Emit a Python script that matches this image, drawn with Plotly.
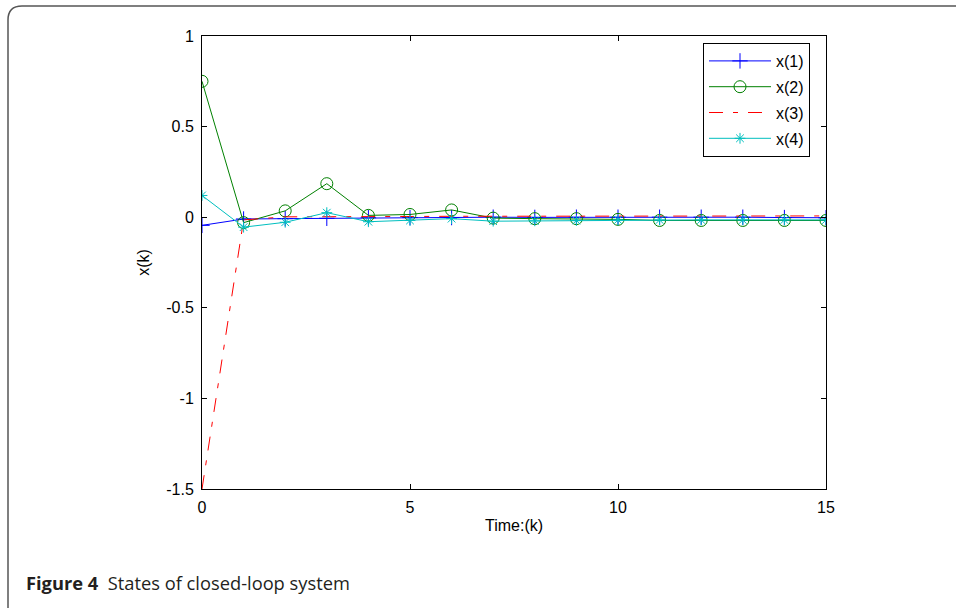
import plotly.graph_objects as go

t = list(range(16))
x1 = [-0.045, -0.01, -0.008, -0.006, -0.003, -0.002, -0.002, 0.0, -0.001, 0.0, 0.0, 0.0, 0.0, 0.0, -0.002, -0.003]
x2 = [0.75, -0.03, 0.035, 0.185, 0.01, 0.015, 0.04, -0.005, -0.008, -0.008, -0.012, -0.018, -0.018, -0.018, -0.018, -0.018]
x3 = [-1.5, -0.015, 0.002, 0.004, 0.004, 0.004, 0.005, 0.005, 0.006, 0.006, 0.007, 0.007, 0.007, 0.007, 0.007, 0.007]
x4 = [0.12, -0.055, -0.028, 0.025, -0.025, -0.018, -0.008, -0.022, -0.02, -0.018, -0.015, -0.015, -0.015, -0.015, -0.015, -0.015]
names = ["x(1)", "x(2)", "x(3)", "x(4)"]
xticks = [0, 5, 10, 15]
yticks = [-1.5, -1, -0.5, 0, 0.5, 1]
yticklabels = ["-1.5", "-1", "-0.5", "0", "0.5", "1"]

# plot area in pixels
L, R, T, B = 202, 826, 36, 489
W, H = 956, 608

def px(x):
    return (x - L) / (R - L)

def py(y):
    return (B - y) / (B - T)

fig = go.Figure()
fig.add_trace(go.Scatter(x=t, y=x1, name=names[0], mode="lines+markers", legendgroup="a",
                         line=dict(color="#0000FF", width=1),
                         marker=dict(symbol="cross-thin-open", size=11, line=dict(color="#0000FF", width=1))))
fig.add_trace(go.Scatter(x=t, y=x2, name=names[1], mode="lines+markers", legendgroup="b",
                         line=dict(color="#008000", width=1),
                         marker=dict(symbol="circle-open", size=12, color="#008000", line=dict(color="#008000", width=1))))
fig.add_trace(go.Scatter(x=t, y=x3, name=names[2], mode="lines", legendgroup="c",
                         line=dict(color="#FF0000", width=1, dash="14px,10px,5px,10px")))
fig.add_trace(go.Scatter(x=t, y=x4, name=names[3], mode="lines+markers", legendgroup="d",
                         line=dict(color="#00BFBF", width=1),
                         marker=dict(symbol="asterisk-open", size=9, line=dict(color="#00BFBF", width=1))))

axis_font = dict(family="Liberation Sans, Arial, sans-serif", size=16, color="black")

fig.update_xaxes(range=[0, 15], tickvals=xticks, ticktext=[str(v) for v in xticks],
                 showline=True, linecolor="black", linewidth=1, mirror="ticks",
                 ticks="inside", ticklen=5, tickcolor="black", showgrid=False, zeroline=False,
                 tickfont=axis_font, ticklabelstandoff=4,
                 title=dict(text="Time:(k)", font=axis_font, standoff=4))
fig.update_yaxes(range=[-1.5, 1], tickvals=yticks, ticktext=yticklabels,
                 showline=True, linecolor="black", linewidth=1, mirror="ticks",
                 ticks="inside", ticklen=5, tickcolor="black", showgrid=False, zeroline=False,
                 tickfont=axis_font, ticklabelstandoff=4,
                 title=dict(text="x(k)", font=axis_font, standoff=12))

frame_path = (f"M {px(8)},{py(640)} L {px(8)},{py(20)} Q {px(8)},{py(6)} {px(22)},{py(6)} "
              f"L {px(1000)},{py(6)}")

fig.update_layout(
    width=W, height=H,
    margin=dict(l=L, r=W - R, t=T, b=H - B),
    paper_bgcolor="white", plot_bgcolor="white",
    showlegend=True,
    legend=dict(x=px(703), y=py(43), xanchor="left", yanchor="top",
                bgcolor="white", bordercolor="black", borderwidth=1,
                font=axis_font, tracegroupgap=2, itemwidth=62),
    shapes=[dict(type="path", path=frame_path, xref="paper", yref="paper",
                 line=dict(color="#555555", width=1.5), layer="below")],
    annotations=[dict(text="<b>Figure 4</b>  States of closed-loop system",
                      xref="paper", yref="paper", x=px(24), y=py(582),
                      xanchor="left", yanchor="middle", showarrow=False,
                      font=dict(family="Open Sans, sans-serif", size=18.3, color="#231f20"))],
)

fig.write_html("out.html")
